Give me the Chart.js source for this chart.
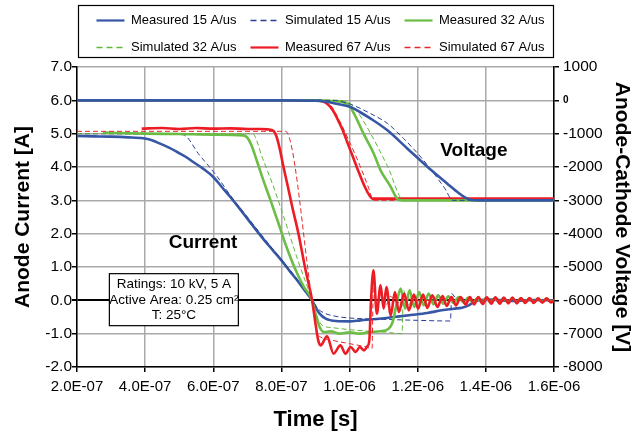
<!DOCTYPE html>
<html>
<head>
<meta charset="utf-8">
<script src="https://cdn.jsdelivr.net/npm/chart.js@4.4.1/dist/chart.umd.min.js"></script>
<style>
  html, body { margin: 0; padding: 0; background: #fff; }
  canvas { display: block; }
</style>
</head>
<body>
<canvas id="recoveryChart" width="641" height="433"></canvas>
<script>
// time in ns, current in A, voltage in V
const legendNames = ['Measured 15 A/us', 'Simulated 15 A/us', 'Measured 32 A/us',
                     'Simulated 32 A/us', 'Measured 67 A/us', 'Simulated 67 A/us'];

const currentMeas15 = [[200,4.93],[250,4.92],[300,4.91],[350,4.89],[394,4.86],[420,4.8],[444,4.7],[470,4.58],[494,4.45],[520,4.3],[541,4.15],[570,3.95],[600,3.7],[625,3.4],[650,3.1],[675,2.78],[700,2.45],[725,2.12],[750,1.8],[775,1.5],[800,1.2],[825,0.87],[850,0.55],[870,0.27],[890,0],[900,-0.2],[912,-0.4],[930,-0.55],[960,-0.62],[1000,-0.63],[1032,-0.6],[1080,-0.56],[1130,-0.5],[1180,-0.44],[1228,-0.38],[1270,-0.3],[1306,-0.25],[1330,-0.22],[1350,-0.15],[1365,-0.05],[1378,0],[1420,0.02],[1480,-0.02],[1540,0.01],[1600,0]];
const currentSim15 = [[200,5.0],[510,4.97],[560,4.35],[611,3.72],[650,3.15],[700,2.5],[750,1.85],[800,1.22],[850,0.58],[890,0],[910,-0.28],[930,-0.4],[960,-0.48],[1000,-0.53],[1100,-0.57],[1200,-0.6],[1296,-0.62],[1300,0.2],[1310,0.08],[1325,0],[1600,0]];
const currentMeas32 = [[276,5.03],[400,5.0],[500,4.99],[600,4.97],[688,4.95],[700,4.88],[712,4.65],[729,4.15],[747,3.6],[768,3.0],[790,2.35],[815,1.6],[840,0.95],[865,0.42],[890,0],[900,-0.4],[912,-0.8],[925,-0.95],[945,-0.93],[970,-1.0],[1000,-0.96],[1030,-1.0],[1060,-0.95],[1090,-0.93],[1115,-0.85],[1128,-0.6],[1138,-0.1],[1150,0.35],[1163,-0.25],[1176,0.3],[1190,-0.2],[1204,0.25],[1218,-0.15],[1232,0.2],[1246,-0.12],[1260,0.15],[1275,-0.1],[1290,0.12],[1305,-0.08],[1320,0.1],[1335,-0.07],[1348,0.08],[1362,-0.07],[1375,0.07],[1388,-0.06],[1400,0.07],[1414,-0.06],[1426,0.06],[1440,-0.06],[1452,0.06],[1465,-0.05],[1478,0.06],[1490,-0.05],[1503,0.05],[1516,-0.05],[1528,0.05],[1541,-0.05],[1554,0.05],[1566,-0.04],[1579,0.05],[1592,-0.04],[1600,0]];
const currentSim32 = [[200,5.0],[715,5.0],[745,4.25],[777,3.4],[810,2.4],[850,1.15],[890,0],[905,-0.5],[920,-0.75],[950,-0.82],[1000,-0.88],[1050,-0.92],[1100,-0.95],[1154,-1.0],[1158,0.3],[1172,-0.15],[1188,0.1],[1205,-0.05],[1230,0.02],[1260,0],[1600,0]];
const currentMeas67 = [[390,5.15],[450,5.17],[500,5.14],[550,5.17],[600,5.15],[650,5.16],[700,5.14],[740,5.14],[760,5.13],[777,5.08],[786,4.9],[795,4.55],[804,4.1],[818,3.45],[833,2.75],[850,2.0],[871,0.9],[890,0],[900,-0.7],[908,-1.2],[915,-1.35],[934,-1.08],[953,-1.6],[973,-1.35],[988,-1.6],[1003,-1.4],[1018,-1.55],[1030,-1.4],[1042,-1.5],[1052,-1.38],[1058,-1.2],[1063,0.0],[1070,0.9],[1080,-0.4],[1091,0.45],[1100,-0.25],[1108,0.4],[1121,-0.45],[1133,0.25],[1145,-0.35],[1160,0.2],[1174,-0.3],[1189,0.17],[1201,-0.25],[1216,0.17],[1228,-0.23],[1243,0.15],[1258,-0.2],[1273,0.13],[1285,-0.17],[1299,0.1],[1312,-0.15],[1326,0.1],[1341,-0.13],[1353,0.1],[1366,-0.12],[1378,0.1],[1391,-0.11],[1403,0.09],[1416,-0.1],[1428,0.09],[1441,-0.1],[1453,0.08],[1466,-0.09],[1478,0.08],[1491,-0.09],[1503,0.07],[1516,-0.08],[1528,0.07],[1541,-0.08],[1553,0.06],[1566,-0.07],[1578,0.06],[1591,-0.06],[1600,0]];
const currentSim67 = [[200,5.07],[812,5.07],[890,0],[900,-0.7],[906,-1.0],[915,-1.1],[950,-1.2],[1000,-1.3],[1050,-1.4],[1066,-1.45],[1070,0.6],[1080,-0.3],[1092,0.25],[1105,-0.2],[1120,0.12],[1140,-0.08],[1165,0.05],[1200,0],[1600,0]];

const voltageMeas15 = [[200,0],[500,0],[800,0],[900,-10],[930,-40],[960,-100],[1003,-200],[1030,-350],[1062,-550],[1111,-900],[1170,-1450],[1229,-2000],[1287,-2500],[1320,-2780],[1340,-2920],[1356,-2990],[1380,-3000],[1600,-3000]];
const voltageSim15 = [[200,0],[950,0],[1003,-120],[1062,-400],[1112,-700],[1159,-1150],[1209,-1700],[1259,-2350],[1280,-2650],[1303,-3000],[1600,-3000]];
const voltageMeas32 = [[200,0],[900,0],[950,-20],[994,-100],[1013,-400],[1041,-1000],[1071,-1600],[1091,-2100],[1121,-2600],[1135,-2880],[1145,-2990],[1160,-3000],[1600,-3000]];
const voltageSim32 = [[200,0],[960,0],[1000,-80],[1013,-200],[1062,-1000],[1112,-1990],[1159,-3000],[1600,-3000]];
const voltageMeas67 = [[200,0],[900,0],[920,-30],[934,-100],[950,-280],[964,-550],[980,-900],[993,-1250],[1008,-1650],[1023,-2050],[1045,-2600],[1060,-2880],[1067,-2950],[1600,-2950]];
const voltageSim67 = [[200,0],[925,0],[945,-150],[970,-600],[1000,-1250],[1030,-1950],[1055,-2600],[1070,-3000],[1600,-3000]];

const blue = '#3656a6', blueSim = '#2a3f93';
const green = '#6cbd45', greenSim = '#5fb83a';
const red = '#ed1c24', redSim = '#e8262c';
const FONT = '"Liberation Sans", Arial, sans-serif';

function pts(arr) {
    return arr.map(p => ({ x: p[0], y: p[1] }));
}

function series(label, arr, color, simulated, axis, order) {
    return {
        label: label,
        data: pts(arr),
        yAxisID: axis,
        borderColor: color,
        backgroundColor: color,
        borderWidth: simulated ? 1 : 2.6,
        borderDash: simulated ? [5, 3] : [],
        pointRadius: 0,
        fill: false,
        cubicInterpolationMode: 'monotone',
        order: order
    };
}

// E-notation like the spreadsheet: 2.0E-07
function sciLabel(ns) {
    const s = (ns * 1e-9).toExponential(1).toUpperCase();
    return s.replace(/E([+-])(\d)$/, 'E$10$2');
}

// one legend entry per current series, drawn as a short (dashed) line
function legendLabels(chart) {
    return chart.data.datasets
        .map((ds, i) => ({ ds, i }))
        .filter(o => o.ds.yAxisID === 'y')
        .map(o => ({
            text: o.ds.label,
            datasetIndex: o.i,
            strokeStyle: o.ds.borderColor,
            fillStyle: o.ds.borderColor,
            fontColor: '#000',
            lineWidth: o.ds.borderDash.length ? 1.6 : 2.2,
            lineDash: o.ds.borderDash.length ? [6, 4] : [],
            pointStyle: 'line',
            hidden: false
        }));
}

// legend wraps after three entries
const legendFit = {
    id: 'legendFit',
    beforeInit(chart) {
        const fit = chart.legend.fit;
        chart.legend.fit = function () {
            const w = this.maxWidth;
            this.maxWidth = 560;
            fit.call(this);
            this.maxWidth = w;
            this.width = w;
            this.height = 67;
        };
    }
};

// legend frame, labels and ratings box
const notes = {
    id: 'notes',
    afterDraw(chart) {
        const ctx = chart.ctx;
        const x = chart.scales.x, y = chart.scales.y;
        ctx.save();
        ctx.strokeStyle = '#000';
        ctx.lineWidth = 1.2;
        ctx.strokeRect(78.5, 5.5, 475, 52);

        ctx.fillStyle = '#000';
        ctx.textAlign = 'center';
        ctx.textBaseline = 'middle';
        ctx.font = 'bold 19px ' + FONT;
        ctx.fillText('Current', x.getPixelForValue(570), y.getPixelForValue(1.74));
        ctx.fillText('Voltage', x.getPixelForValue(1365), y.getPixelForValue(4.5));

        const bx = x.getPixelForValue(295), by = y.getPixelForValue(0.8);
        const bw = 129, bh = 52;
        ctx.fillStyle = '#fff';
        ctx.fillRect(bx, by, bw, bh);
        ctx.strokeRect(bx, by, bw, bh);
        ctx.fillStyle = '#000';
        ctx.font = '13.5px ' + FONT;
        ctx.fillText('Ratings: 10 kV, 5 A', bx + bw / 2, by + 11);
        ctx.fillText('Active Area: 0.25 cm\u00B2', bx + bw / 2, by + 27);
        ctx.fillText('T: 25\u00B0C', bx + bw / 2, by + 42);
        ctx.restore();
    }
};

function createRecoveryChart() {
    const ctx = document.getElementById('recoveryChart').getContext('2d');
    Chart.defaults.font.family = FONT;
    Chart.defaults.color = '#000';

    const datasets = [
        series(legendNames[0], currentMeas15, blue, false, 'y', 5),
        series(legendNames[1], currentSim15, blueSim, true, 'y', 4),
        series(legendNames[2], currentMeas32, green, false, 'y', 3),
        series(legendNames[3], currentSim32, greenSim, true, 'y', 2),
        series(legendNames[4], currentMeas67, red, false, 'y', 1),
        series(legendNames[5], currentSim67, redSim, true, 'y', 0),
        series(legendNames[0], voltageMeas15, blue, false, 'yV', 0),
        series(legendNames[1], voltageSim15, blueSim, true, 'yV', 0),
        series(legendNames[2], voltageMeas32, green, false, 'yV', 2),
        series(legendNames[3], voltageSim32, greenSim, true, 'yV', 2),
        series(legendNames[4], voltageMeas67, red, false, 'yV', 3),
        series(legendNames[5], voltageSim67, redSim, true, 'yV', 3)
    ];

    const config = {
        type: 'line',
        data: { datasets: datasets },
        options: {
            responsive: false,
            animation: false,
            layout: { padding: 0 },
            scales: {
                x: {
                    type: 'linear',
                    min: 200,
                    max: 1600,
                    afterFit: s => { s.height = 66; },
                    ticks: { stepSize: 200, padding: 6, font: { size: 15 }, callback: v => sciLabel(v) },
                    grid: { color: '#a9a9a9', lineWidth: 1.5, tickColor: '#000', tickLength: 5 },
                    border: { color: '#000', width: 1.5 },
                    title: { display: true, text: 'Time [s]', font: { size: 22, weight: 'bold' }, padding: { top: 0, bottom: 0 } }
                },
                y: {
                    position: 'left',
                    min: -2,
                    max: 7,
                    afterFit: s => { s.width = 77; },
                    ticks: { stepSize: 1, padding: 0, font: { size: 15.5 }, callback: v => v.toFixed(1) },
                    grid: {
                        color: c => (c.tick && c.tick.value === 0 ? '#000' : '#a9a9a9'),
                        lineWidth: c => (c.tick && c.tick.value === 0 ? 2 : 1.5),
                        tickColor: '#000',
                        tickLength: 5
                    },
                    border: { color: '#000', width: 1.5 },
                    title: { display: true, text: 'Anode Current [A]', font: { size: 21, weight: 'bold' }, padding: { top: 11, bottom: 0 } }
                },
                yV: {
                    position: 'right',
                    min: -8000,
                    max: 1000,
                    afterFit: s => { s.width = 87; },
                    ticks: {
                        stepSize: 1000,
                        padding: 4,
                        font: c => (c.tick && c.tick.value === 0 ? { size: 10, weight: 'bold' } : { size: 15.5 }),
                        callback: v => String(v)
                    },
                    grid: { drawOnChartArea: false, tickColor: '#000', tickLength: 5, lineWidth: 1.5 },
                    border: { color: '#000', width: 1.5 },
                    title: { display: true, text: 'Anode-Cathode Voltage [V]', font: { size: 21, weight: 'bold' }, padding: { top: 7, bottom: 0 } }
                }
            },
            plugins: {
                legend: {
                    position: 'top',
                    labels: {
                        usePointStyle: true,
                        pointStyle: 'line',
                        pointStyleWidth: 28,
                        padding: 14,
                        color: '#000',
                        font: { size: 13 },
                        generateLabels: legendLabels
                    }
                },
                tooltip: { enabled: false }
            }
        },
        plugins: [legendFit, notes]
    };

    return new Chart(ctx, config);
}

document.addEventListener('DOMContentLoaded', () => {
    createRecoveryChart();
});
</script>
</body>
</html>
